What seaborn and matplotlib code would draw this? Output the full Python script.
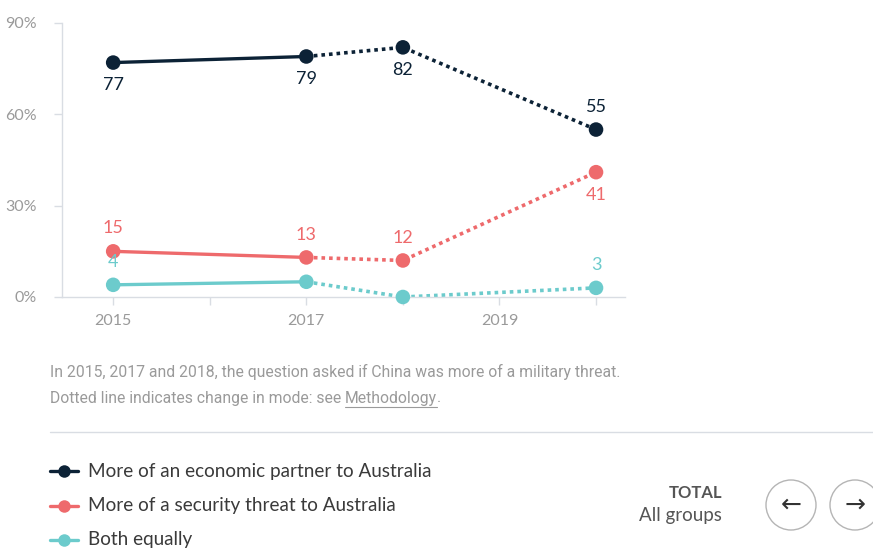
import matplotlib
matplotlib.use("Agg")
import numpy             as np
import pandas            as pd
import seaborn           as sns
import matplotlib.pyplot as plt
from matplotlib.lines   import Line2D
from matplotlib.patches import Ellipse

# ============================================================ DATA ============================================================

YEARS      = [2015, 2017, 2018, 2020]
ECONOMIC   = [77, 79, 82, 55]
SECURITY   = [15, 13, 12, 41]
BOTH       = [4, 5, 0, 3]
SERIES     = ["More of an economic partner to Australia",
              "More of a security threat to Australia",
              "Both equally"]
COLORS     = ["#0c2236", "#ee6a6c", "#6ccbcc"]
Y_TICKS    = [0, 30, 60, 90]
X_TICKS    = [2015, 2016, 2017, 2018, 2019, 2020]
X_LABELS   = ["2015", "", "2017", "", "2019", ""]

# which labels are shown, and above (+1) or below (-1) the point
LABEL_POS  = {SERIES[0]: [-1, -1, -1, 1],
              SERIES[1]: [1, 1, 1, -1],
              SERIES[2]: [1, 0, 0, 1]}

FOOTNOTE_1 = "In 2015, 2017 and 2018, the question asked if China was more of a military threat."
FOOTNOTE_2 = "Dotted line indicates change in mode: see "

# ============================================================ FRAME ============================================================

frames = []
for name, values in zip(SERIES, [ECONOMIC, SECURITY, BOTH]):
    frames.append(pd.DataFrame({"Year": YEARS, "Value": values, "Series": name}))
df = pd.concat(frames, ignore_index=True)

palette = dict(zip(SERIES, COLORS))
GRAY    = "#9a9a9a"
LIGHT   = "#d9dde3"

sns.set_theme(style="white")
plt.rcParams["font.family"] = ["Lato", "DejaVu Sans"]

fig = plt.figure(figsize=(8.73, 5.5), dpi=100)
ax  = fig.add_axes([62 / 873, 1 - 297 / 550, (625 - 62) / 873, (297 - 23) / 550])

# solid segment (same survey mode) and dotted segment (changed mode)
sns.lineplot(data=df[df["Year"] <= 2017], x="Year", y="Value", hue="Series", palette=palette,
             linewidth=2.4, legend=False, ax=ax, zorder=2)
sns.lineplot(data=df[df["Year"] >= 2017], x="Year", y="Value", hue="Series", palette=palette,
             linewidth=2.6, linestyle=(0, (1, 1.1)), legend=False, ax=ax, zorder=2)
sns.scatterplot(data=df, x="Year", y="Value", hue="Series", palette=palette, s=110,
                edgecolor="none", legend=False, ax=ax, zorder=3, clip_on=False)
for coll in ax.collections:
    coll.set_clip_on(False)

for name, values in zip(SERIES, [ECONOMIC, SECURITY, BOTH]):
    for year, value, pos in zip(YEARS, values, LABEL_POS[name]):
        if pos == 0:
            continue
        ax.annotate(f"{value}", (year, value), xytext=(0, 16.5 * pos), textcoords="offset points",
                    ha="center", va="center", fontsize=13, color=palette[name])

ax.set_xlim(2014.47, 2020.3)
ax.set_ylim(0, 90)
ax.set_yticks(Y_TICKS)
ax.set_yticklabels([f"{t}%" for t in Y_TICKS], color=GRAY, fontsize=11.5)
ax.set_xticks(X_TICKS)
ax.set_xticklabels(X_LABELS, color=GRAY, fontsize=11.5)
ax.set_xlabel("")
ax.set_ylabel("")
ax.tick_params(axis="both", length=6, color=LIGHT, width=1, pad=6, bottom=True, left=True)
ax.tick_params(axis="y", length=6, pad=12)
for side in ["top", "right"]:
    ax.spines[side].set_visible(False)
for side in ["left", "bottom"]:
    ax.spines[side].set_color(LIGHT)
    ax.spines[side].set_linewidth(1)

# ============================================================ FOOTNOTES ============================================================

note_font = ["Roboto", "DejaVu Sans"]
NOTE_SIZE = 11.3
fig.text(50 / 873, 1 - 372 / 550, FOOTNOTE_1, color=GRAY, fontsize=NOTE_SIZE, va="center", family=note_font)
t2 = fig.text(50 / 873, 1 - 398 / 550, FOOTNOTE_2, color=GRAY, fontsize=NOTE_SIZE, va="center", family=note_font)
fig.canvas.draw()
bb = t2.get_window_extent()
x_m = bb.x1 / fig.bbox.width
t3 = fig.text(x_m, 1 - 398 / 550, "Methodology", color=GRAY, fontsize=NOTE_SIZE, va="center", family=note_font)
bb3 = t3.get_window_extent()
fig.text(bb3.x1 / fig.bbox.width, 1 - 398 / 550, ".", color=GRAY, fontsize=NOTE_SIZE, va="center", family=note_font)
fig.add_artist(Line2D([x_m, bb3.x1 / fig.bbox.width], [bb3.y0 / fig.bbox.height - 0.002] * 2,
                      color=GRAY, lw=0.8))

fig.add_artist(Line2D([50 / 873, 1.0], [1 - 432 / 550] * 2, color=LIGHT, lw=1))

# ============================================================ LEGEND ============================================================

for i, (name, color) in enumerate(zip(SERIES, COLORS)):
    y = 1 - (471 + 34.5 * i) / 550
    fig.add_artist(Line2D([50 / 873, 78 / 873], [y, y], color=color, lw=2.4))
    fig.add_artist(Line2D([64 / 873], [y], color=color, marker="o", markersize=9, markeredgewidth=0))
    fig.text(88 / 873, y, name, color="#3a3a3a", fontsize=13.6, va="center")

fig.text(722 / 873, 1 - 493 / 550, "TOTAL", color="#555555", fontsize=12, fontweight="bold",
         ha="right", va="center")
fig.text(722 / 873, 1 - 516 / 550, "All groups", color="#555555", fontsize=13.5, ha="right", va="center")

for cx, arrow in [(791, "\u2190"), (855, "\u2192")]:
    fig.add_artist(Ellipse((cx / 873, 1 - 505 / 550), 50 / 873, 50 / 550, facecolor="white",
                           edgecolor="#b5b5b5", lw=1))
    fig.text(cx / 873, 1 - 505 / 550, arrow, color="#333333", fontsize=18, ha="center", va="center",
             family=["DejaVu Sans"])

fig.savefig("out.png", dpi=100)
